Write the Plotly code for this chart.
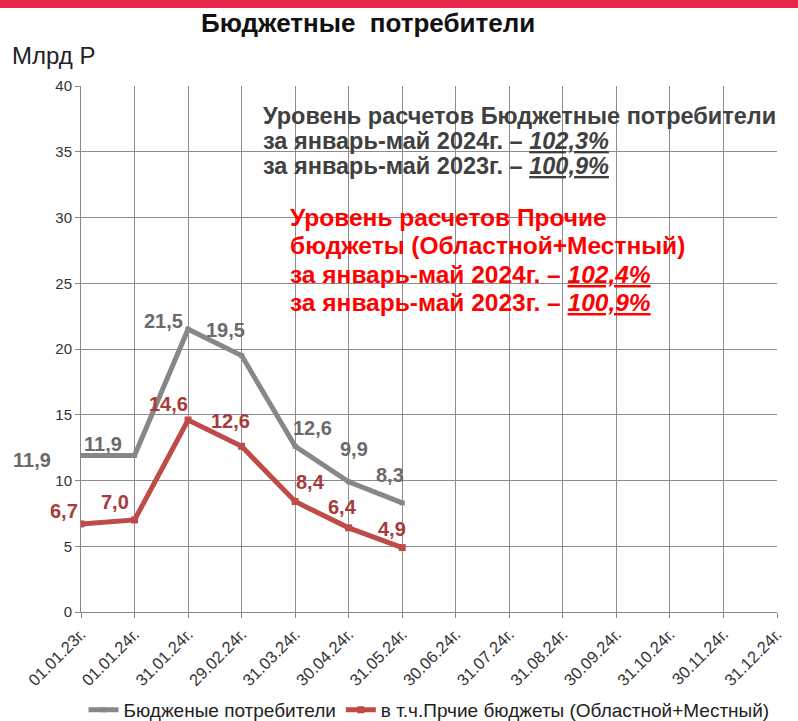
import plotly.graph_objects as go

categories = ["01.01.23г.", "01.01.24г.", "31.01.24г.", "29.02.24г.", "31.03.24г.",
              "30.04.24г.", "31.05.24г.", "30.06.24г.", "31.07.24г.", "31.08.24г.",
              "30.09.24г.", "31.10.24г.", "30.11.24г.", "31.12.24г."]
budget_consumers = [11.9, 11.9, 21.5, 19.5, 12.6, 9.9, 8.3]
other_budgets = [6.7, 7.0, 14.6, 12.6, 8.4, 6.4, 4.9]

grey_label_offsets = [(-49, -4), (-32, 12), (-25, 8), (-16, 26), (17, 18), (5, 33), (-12, 28)]
red_label_offsets = [(-17, 13), (-20, 18), (-20, 16), (-11, 25), (15, 20), (-6, 21), (-10, 19)]

GREY = "#878787"
RED = "#BE4B48"
FONT = "Liberation Sans, Arial, sans-serif"

W, H = 798, 721
L, R, T, B = 81, 21, 86, 109
pw, ph = W - L - R, H - T - B

fig = go.Figure()
fig.add_trace(go.Scatter(
    x=list(range(len(budget_consumers))), y=budget_consumers, mode="lines+markers",
    name="Бюдженые потребители",
    line=dict(color=GREY, width=5), marker=dict(symbol="square", size=5, color=GREY),
))
fig.add_trace(go.Scatter(
    x=list(range(len(other_budgets))), y=other_budgets, mode="lines+markers",
    name="в т.ч.Прчие бюджеты (Областной+Местный)",
    line=dict(color=RED, width=5), marker=dict(symbol="square", size=7, color=RED),
))

annotations = []
for i, v in enumerate(budget_consumers):
    dx, dy = grey_label_offsets[i]
    annotations.append(dict(x=i, y=v, xref="x", yref="y", text=f"{v:.1f}".replace(".", ","),
                            showarrow=False, xshift=dx, yshift=dy,
                            font=dict(family=FONT, size=20, color="#6B6B6B", weight="bold")))
for i, v in enumerate(other_budgets):
    dx, dy = red_label_offsets[i]
    annotations.append(dict(x=i, y=v, xref="x", yref="y", text=f"{v:.1f}".replace(".", ","),
                            showarrow=False, xshift=dx, yshift=dy,
                            font=dict(family=FONT, size=20, color="#A83A3A", weight="bold")))

def px_x(px):
    return (px - L) / pw

def px_y(py):
    return 1 - (py - T) / ph

grey_lines = [
    "Уровень расчетов Бюджетные потребители",
    "за январь-май 2024г. – <i><u>102,3%</u></i>",
    "за январь-май 2023г. – <i><u>100,9%</u></i>",
]
grey_y = [116, 141, 166]
for txt, yy in zip(grey_lines, grey_y):
    annotations.append(dict(x=px_x(261), y=px_y(yy), xref="paper", yref="paper", text=txt,
                            showarrow=False, xanchor="left", yanchor="middle",
                            font=dict(family=FONT, size=23.5, color="#404040", weight="bold")))
red_lines = [
    "Уровень расчетов Прочие",
    "бюджеты (Областной+Местный)",
    "за январь-май 2024г. – <i><u>102,4%</u></i>",
    "за январь-май 2023г. – <i><u>100,9%</u></i>",
]
red_y = [218, 246, 274, 302]
for txt, yy in zip(red_lines, red_y):
    annotations.append(dict(x=px_x(288), y=px_y(yy), xref="paper", yref="paper", text=txt,
                            showarrow=False, xanchor="left", yanchor="middle",
                            font=dict(family=FONT, size=24.5, color="#FF0000", weight="bold")))

annotations.append(dict(x=px_x(368), y=px_y(23), xref="paper", yref="paper",
                        text="Бюджетные\u00a0\u00a0потребители", showarrow=False,
                        xanchor="center", yanchor="middle",
                        font=dict(family=FONT, size=26, color="#111111", weight="bold")))
annotations.append(dict(x=px_x(10), y=px_y(55), xref="paper", yref="paper",
                        text="Млрд Р", showarrow=False, xanchor="left", yanchor="middle",
                        font=dict(family=FONT, size=24, color="#222222")))

shapes = [dict(type="rect", xref="paper", yref="paper",
               x0=px_x(0), x1=px_x(W), y0=px_y(8), y1=px_y(-2),
               fillcolor="#E8274B", line=dict(width=0), layer="above")]

fig.update_layout(
    width=W, height=H,
    margin=dict(l=L, r=R, t=T, b=B, autoexpand=False),
    paper_bgcolor="white", plot_bgcolor="white",
    showlegend=True,
    legend=dict(orientation="h", x=0.5, xanchor="center", y=px_y(710), yanchor="middle",
                font=dict(family=FONT, size=19, color="#222222"),
                itemwidth=30, tracegroupgap=0),
    annotations=annotations, shapes=shapes,
    xaxis=dict(range=[0, 13], tickmode="array", tickvals=list(range(len(categories))),
               ticktext=categories, tickangle=-45, showgrid=True, gridcolor="#8C8C8C",
               gridwidth=1, showline=True, linecolor="#868686", linewidth=1,
               ticks="outside", ticklen=5, tickcolor="#868686", zeroline=False,
               automargin=False,
               tickfont=dict(family=FONT, size=16.5, color="#333333"), mirror=False),
    yaxis=dict(range=[0, 40], tickmode="array", tickvals=[0, 5, 10, 15, 20, 25, 30, 35, 40],
               showgrid=True, gridcolor="#8C8C8C", gridwidth=1, showline=True,
               linecolor="#868686", linewidth=1, ticks="outside", ticklen=5,
               tickcolor="#868686", zeroline=False, automargin=False,
               tickfont=dict(family=FONT, size=15, color="#333333")),
)

fig.write_html("out.html", config={"displayModeBar": False},
               post_script="document.body.style.margin='0';document.body.style.overflow='hidden';")
